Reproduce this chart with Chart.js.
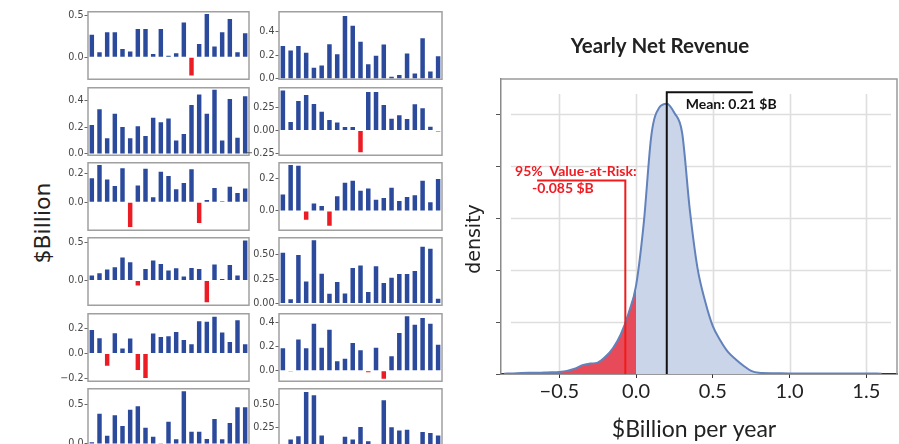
<!DOCTYPE html>
<html><head><meta charset="utf-8">
<script src="https://cdn.jsdelivr.net/npm/chart.js@4.4.0/dist/chart.umd.min.js"></script>
<style>
html,body{margin:0;padding:0;background:#fff;width:899px;height:444px;overflow:hidden;position:relative}
canvas{position:absolute}
#ylab{position:absolute;left:42px;top:223px;transform:translate(-50%,-50%) rotate(-90deg);font:22px 'DejaVu Sans';color:#222;white-space:nowrap}
</style></head><body>
<div id="ylab">$Billion</div>
<script>
// ---------- data: small multiples (21 years each) ----------
const years = Array.from({length:21},(_,i)=>String(i+1));
const panelL1 = [0.27,0.06,0.30,0.30,0.10,0.07,0.34,0.34,0.04,0.34,0.02,0.05,0.42,-0.22,0.16,0.52,0.13,0.30,0.46,0.06,0.29];
const panelL2 = [0.215,0.333,0.116,0.30,0.20,0.116,0.207,0.133,0.27,0.237,0.264,0.10,0.148,0.365,0.444,0.30,0.48,0.10,0.41,0.12,0.43];
const panelL3 = [0.166,0.257,0.157,0.111,0.234,-0.17,0.116,0.23,0.034,0.21,0.18,0.089,0.132,0.227,-0.143,0.016,0.098,0.007,0.107,0.064,0.095];
const panelL4 = [0.065,0.096,0.143,0.174,0.30,0.24,-0.065,0.152,0.26,0.217,0.13,0.16,0.052,0.165,0.152,-0.28,0.21,0.02,0.204,0.065,0.52];
const panelL5 = [0.19,0.123,-0.099,0.163,0.04,0.12,-0.133,-0.197,0.16,0.133,0.139,0.173,0.109,0.075,0.26,0.256,0.296,0.168,0.093,0.267,0.075];
const panelL6 = [0.02,0.383,0.104,0.363,0.229,0.433,0.479,0.204,0.092,0.01,0.283,0.058,0.667,0.154,0.154,0.063,0.317,0.058,0.267,0.467,0.467];
const panelR1 = [0.278,0.24,0.278,0.219,0.092,0.111,0.292,0.208,0.532,0.449,0.314,0.122,0.195,0.289,0.016,0.03,0.214,0.043,0.343,0.06,0.19];
const panelR2 = [0.436,0.093,0.321,0.386,0.289,0.204,0.114,0.089,0.039,0.039,-0.236,0.421,0.421,0.279,0.129,0.168,0.125,0.286,0.243,0.043,-0.01];
const panelR3 = [0.10,0.279,0.275,-0.053,0.046,0.03,-0.089,0.089,0.172,0.184,0.123,0.137,0.069,0.079,0.141,0.061,0.085,0.095,0.184,0.053,0.194];
const panelR4 = [0.524,0.044,0.50,0.226,0.652,0.307,0.101,0.223,0.105,0.365,0.392,0.118,0.385,0.213,0.267,0.304,0.304,0.334,0.584,0.564,0.05];
const panelR5 = [0.189,-0.005,0.261,0.189,0.394,0.192,0.344,0.081,0.10,0.233,0.172,-0.012,0.192,-0.067,0.122,0.317,0.456,0.386,0.442,0.394,0.219];
const panelR6 = [0.05,0.12,0.155,0.63,0.595,0.162,0.04,0.06,0.148,0.12,0.254,0.102,0.05,0.542,0.25,0.215,0.225,0.07,0.20,0.19,0.162];

// tick values for each small panel
const ticksL1 = [0,0.5], ticksL2 = [0,0.2,0.4], ticksL3 = [0,0.2], ticksL4 = [0,0.5], ticksL5 = [-0.2,0,0.2], ticksL6 = [0,0.5];
const ticksR1 = [0,0.2,0.4], ticksR2 = [-0.25,0,0.25], ticksR3 = [0,0.2], ticksR4 = [0,0.25,0.5], ticksR5 = [0,0.2,0.4], ticksR6 = [0,0.25,0.5];

// ---------- data: density of yearly net revenue ----------
const densityX = [-0.86,-0.80,-0.75,-0.70,-0.65,-0.60,-0.55,-0.50,-0.45,-0.40,-0.35,-0.30,-0.25,-0.20,-0.15,-0.10,-0.05,0.00,0.05,0.10,0.15,0.20,0.25,0.30,0.35,0.40,0.45,0.50,0.55,0.60,0.65,0.70,0.75,0.80,0.90,1.00,1.20,1.40,1.50,1.60];
const densityY = [0.003,0.006,0.010,0.012,0.012,0.014,0.016,0.020,0.030,0.050,0.085,0.100,0.110,0.165,0.250,0.380,0.580,0.850,1.450,2.300,2.560,2.600,2.510,2.320,1.580,1.020,0.700,0.460,0.320,0.210,0.140,0.080,0.030,0.012,0.008,0.006,0.004,0.004,0.006,0.003];
const xTicks = [-0.5,0,0.5,1.0,1.5];
const yTicks = [0,0.5,1.0,1.5,2.0,2.5];
const meanValue = 0.2, meanTop = 2.71, meanArmEnd = 0.76;
const varValue = -0.07, varTop = 1.86, varArmEnd = -0.645;
const meanText = 'Mean: 0.21 $B';
const varText1 = '95%  Value-at-Risk:', varText2 = '-0.085 $B';

// ---------- layout ----------
Chart.defaults.font.family = "'DejaVu Sans'";
Chart.defaults.color = '#444';
const BLUE = '#2c4a9c', RED = '#ec1c24';

const boxPlugin = {id:'box', beforeDatasetsDraw(c){const a=c.chartArea,ctx=c.ctx;ctx.save();ctx.strokeStyle='#a0a0a0';ctx.lineWidth=1.5;ctx.strokeRect(a.left,a.top,a.right-a.left,a.bottom-a.top);ctx.restore();}};

function fmt(v, d){ const s = Math.abs(v).toFixed(d); return v < 0 ? '\u2212'+s : s; }

function makePanel(vals, tks, dec, min, max, x, top, w, h){
  const cv = document.createElement('canvas');
  const W = 40 + w + 3, H = h + 12;
  cv.width = W; cv.height = H;
  cv.style.left = (x-40)+'px'; cv.style.top = (top-6)+'px';
  cv.style.width = W+'px'; cv.style.height = H+'px';
  document.body.appendChild(cv);
  new Chart(cv, {
    type:'bar',
    data:{labels:years, datasets:[{data:vals, backgroundColor:vals.map(v=>v<0?RED:BLUE), barPercentage:0.58, categoryPercentage:1}]},
    options:{responsive:false, animation:false, devicePixelRatio:1,
      layout:{padding:{left:0,right:3,top:6,bottom:6}},
      plugins:{legend:{display:false}, tooltip:{enabled:false}},
      scales:{
        x:{display:false},
        y:{min:min, max:max,
           afterBuildTicks:s=>{s.ticks = tks.map(v=>({value:v}));},
           afterFit:s=>{s.width=40;},
           ticks:{font:{size:9.6}, color:'#444', padding:1, callback:v=>fmt(v,dec)},
           grid:{drawOnChartArea:false, drawTicks:true, tickLength:3.5, tickColor:'#666', tickWidth:1},
           border:{display:false}}
      }},
    plugins:[boxPlugin]
  });
}

const rowTops = [11, 87, 162, 237, 313, 388];
const PH = 69;
const LX = 88, LW = 161, RX = 279, RW = 163;
makePanel(panelL1, ticksL1, 1, -0.264, 0.548, LX, rowTops[0], LW, PH);
makePanel(panelL2, ticksL2, 1, -0.01, 0.494, LX, rowTops[1], LW, PH);
makePanel(panelL3, ticksL3, 1, -0.193, 0.272, LX, rowTops[2], LW, PH);
makePanel(panelL4, ticksL4, 1, -0.32, 0.557, LX, rowTops[3], LW, PH);
makePanel(panelL5, ticksL5, 1, -0.224, 0.32, LX, rowTops[4], LW, PH);
makePanel(panelL6, ticksL6, 1, -0.156, 0.70, LX, rowTops[5], LW, PH);
makePanel(panelR1, ticksR1, 1, -0.005, 0.568, RX, rowTops[0], RW, PH);
makePanel(panelR2, ticksR2, 2, -0.268, 0.466, RX, rowTops[1], RW, PH);
makePanel(panelR3, ticksR3, 1, -0.117, 0.293, RX, rowTops[2], RW, PH);
makePanel(panelR4, ticksR4, 2, -0.017, 0.677, RX, rowTops[3], RW, PH);
makePanel(panelR5, ticksR5, 1, -0.087, 0.477, RX, rowTops[4], RW, PH);
makePanel(panelR6, ticksR6, 2, -0.06, 0.664, RX, rowTops[5], RW, PH);

// ---------- density chart ----------
const dcv = document.createElement('canvas');
dcv.width = 444; dcv.height = 444;
dcv.style.left = '455px'; dcv.style.top = '0px'; dcv.style.width='444px'; dcv.style.height='444px';
document.body.appendChild(dcv);

const densPts = densityX.map((x,i)=>({x:x, y:densityY[i]}));
const redPts = densPts.filter(p=>p.x<=0);
const meanPts = [{x:meanValue,y:0},{x:meanValue,y:meanTop},{x:meanArmEnd,y:meanTop}];
const varPts = [{x:varValue,y:0},{x:varValue,y:varTop},{x:varArmEnd,y:varTop}];

const insetGrid = {id:'insetGrid', beforeDatasetsDraw(c){
  const ctx=c.ctx, a=c.chartArea, xs=c.scales.x, ys=c.scales.y;
  ctx.save(); ctx.strokeStyle='#dedede'; ctx.lineWidth=1.6;
  yTicks.filter(v=>v>0).forEach(v=>{const y=Math.round(ys.getPixelForValue(v))+0.5;ctx.beginPath();ctx.moveTo(a.left+10,y);ctx.lineTo(a.right-6,y);ctx.stroke();});
  xTicks.forEach(v=>{const x=Math.round(xs.getPixelForValue(v))+0.5;ctx.beginPath();ctx.moveTo(x,a.top+15);ctx.lineTo(x,a.bottom);ctx.stroke();});
  ctx.restore();
}};

const densText = {id:'densText', afterDraw(c){
  const ctx=c.ctx, a=c.chartArea, xs=c.scales.x, ys=c.scales.y;
  ctx.save();
  ctx.strokeStyle='#9a9a9a'; ctx.lineWidth=1.5;
  ctx.beginPath(); ctx.moveTo(a.left,a.top); ctx.lineTo(a.right,a.top); ctx.lineTo(a.right,a.bottom); ctx.stroke();
  ctx.fillStyle='#222'; ctx.textAlign='center'; ctx.textBaseline='middle';
  ctx.font="bold 20.5px Lato"; ctx.fillText('Yearly Net Revenue', 205, 46);
  ctx.font="23px Lato"; ctx.fillText('$Billion per year', 239, 430);
  ctx.save(); ctx.translate(20,239); ctx.rotate(-Math.PI/2); ctx.font="19px 'DejaVu Sans'"; ctx.fillText('density',0,0); ctx.restore();
  ctx.textAlign='left';
  ctx.font="bold 14px Lato"; ctx.fillStyle='#111';
  ctx.fillText(meanText, xs.getPixelForValue(meanValue)+19, ys.getPixelForValue(meanTop)+12);
  ctx.fillStyle='#f01c24';
  ctx.fillText(varText1, xs.getPixelForValue(varArmEnd)-22, ys.getPixelForValue(varTop)-9);
  ctx.fillText(varText2, xs.getPixelForValue(varArmEnd)-5, ys.getPixelForValue(varTop)+8);
  ctx.restore();
}};

new Chart(dcv, {
  type:'line',
  data:{datasets:[
    {data:densPts, fill:'origin', backgroundColor:'#cbd5e9', borderWidth:0, pointRadius:0, cubicInterpolationMode:'monotone', order:4},
    {data:redPts, fill:'origin', backgroundColor:'rgba(234,56,68,0.88)', borderWidth:0, pointRadius:0, cubicInterpolationMode:'monotone', order:3},
    {data:densPts, fill:false, borderColor:'#6282bb', borderWidth:2, pointRadius:0, cubicInterpolationMode:'monotone', order:2},
    {data:meanPts, fill:false, borderColor:'#111', borderWidth:2, pointRadius:0, tension:0, order:1},
    {data:varPts, fill:false, borderColor:'#f01c1c', borderWidth:2, pointRadius:0, tension:0, order:0}
  ]},
  options:{responsive:false, animation:false, devicePixelRatio:1,
    layout:{padding:{left:0,right:2,top:79,bottom:40}},
    plugins:{legend:{display:false}, tooltip:{enabled:false}},
    scales:{
      x:{type:'linear', min:-0.88, max:1.70,
         afterBuildTicks:s=>{s.ticks = xTicks.map(v=>({value:v}));},
         afterFit:s=>{s.height=30;},
         ticks:{font:{family:'Lato', size:20}, color:'#222', padding:2, maxRotation:0, callback:v=>fmt(v,1)},
         grid:{drawOnChartArea:false, tickColor:'#333', tickLength:4},
         border:{color:'#333', width:1.5}},
      y:{min:0, max:2.837,
         afterBuildTicks:s=>{s.ticks = yTicks.map(v=>({value:v}));},
         afterFit:s=>{s.width=46;},
         ticks:{display:false},
         grid:{drawOnChartArea:false, tickColor:'#555', tickLength:5},
         border:{color:'#8a8a8a', width:1.5}}
    }},
  plugins:[insetGrid, densText]
});
</script>
</body></html>
